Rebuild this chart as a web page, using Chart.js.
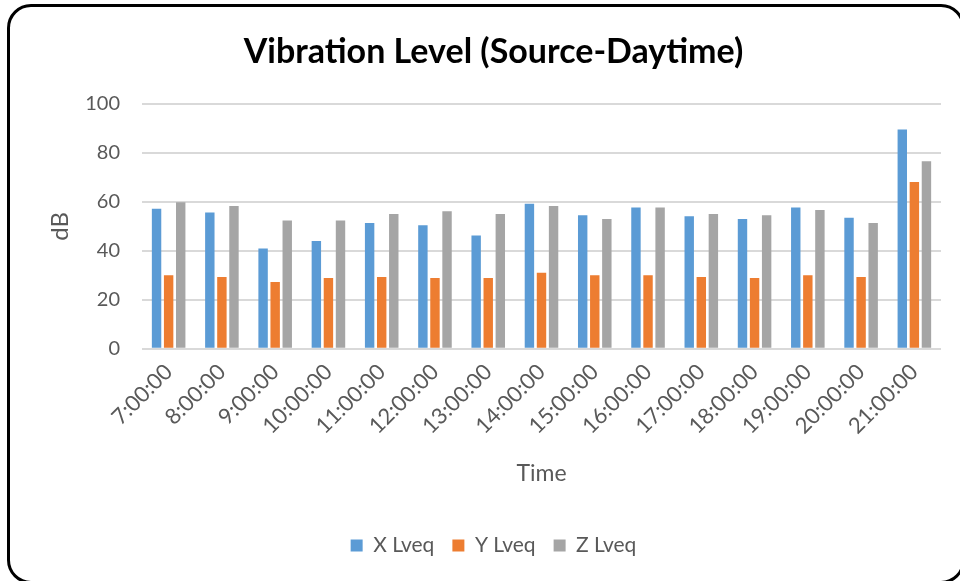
<!DOCTYPE html>
<html>
<head>
<meta charset="utf-8">
<script src="https://cdn.jsdelivr.net/npm/chart.js@4.4.0/dist/chart.umd.min.js"></script>
<style>
  html, body { margin: 0; padding: 0; background: #fff; overflow: hidden; }
  #wrap { position: absolute; left: 0; top: 0; width: 960px; height: 581px; }
  #marco {
    position: absolute; left: 7px; top: 4px; width: 958px; height: 580px;
    border: 3px solid #000; border-radius: 24px; box-sizing: border-box;
    pointer-events: none;
  }
</style>
</head>
<body>
<div id="wrap">
  <canvas id="myChart" width="960" height="581"></canvas>
  <div id="marco"></div>
</div>
<script>
// datos
const horas = ['7:00:00', '8:00:00', '9:00:00', '10:00:00', '11:00:00', '12:00:00', '13:00:00', '14:00:00',
  '15:00:00', '16:00:00', '17:00:00', '18:00:00', '19:00:00', '20:00:00', '21:00:00'];
const xLveq = [57.2, 55.6, 40.9, 44.0, 51.4, 50.4, 46.2, 59.2, 54.5, 57.7, 54.1, 53.0, 57.7, 53.5, 89.5];
const yLveq = [30.0, 29.3, 27.3, 28.9, 29.3, 28.9, 28.9, 31.0, 30.0, 30.0, 29.3, 28.9, 30.0, 29.3, 68.1];
const zLveq = [59.8, 58.3, 52.4, 52.4, 55.0, 56.1, 55.0, 58.3, 53.0, 57.7, 55.0, 54.5, 56.7, 51.4, 76.6];
const yTicks = [0, 20, 40, 60, 80, 100];

const fuente = 'Lato, "Open Sans", sans-serif';
const gris = '#595959';

function serie(label, data, color) {
  return {
    label: label,
    data: data,
    backgroundColor: color,
    borderColor: color,
    borderWidth: 0,
    categoryPercentage: 0.68,
    barPercentage: 0.78
  };
}

let ctx = document.getElementById('myChart').getContext('2d');

let miGrafico = new Chart(ctx, {
  type: 'bar',
  data: {
    labels: horas,
    datasets: [
      serie('X Lveq', xLveq, '#5B9BD5'),
      serie('Y Lveq', yLveq, '#ED7D31'),
      serie('Z Lveq', zLveq, '#A5A5A5')
    ]
  },
  options: {
    responsive: false,
    animation: false,
    layout: { padding: { left: 46, right: 19, top: 22, bottom: 15 } },
    plugins: {
      title: {
        display: true,
        text: 'Vibration Level (Source-Daytime)',
        color: '#000',
        font: { family: fuente, size: 34, weight: 'bold' },
        padding: { top: 10, bottom: 31 }
      },
      legend: {
        position: 'bottom',
        labels: {
          color: gris,
          font: { family: fuente, size: 21 },
          boxWidth: 12,
          boxHeight: 12,
          padding: 18
        }
      },
      tooltip: { enabled: false }
    },
    scales: {
      x: {
        grid: { display: false },
        border: { display: false },
        ticks: {
          color: gris,
          font: { family: fuente, size: 22 },
          minRotation: 45,
          maxRotation: 45,
          padding: 2
        },
        title: {
          display: true,
          text: 'Time',
          color: gris,
          font: { family: fuente, size: 23 },
          padding: { top: 18, bottom: 30 }
        }
      },
      y: {
        min: 0,
        max: 100,
        afterBuildTicks: s => { s.ticks = yTicks.map(v => ({ value: v })); },
        afterFit: s => { s.width = 96; },
        grid: { color: '#d9d9d9', lineWidth: 2, drawTicks: false },
        border: { display: false },
        ticks: {
          color: gris,
          font: { family: fuente, size: 20 },
          padding: 22
        },
        title: {
          display: true,
          text: 'dB',
          color: gris,
          font: { family: fuente, size: 24 },
          padding: 0
        }
      }
    }
  }
});
</script>
</body>
</html>
